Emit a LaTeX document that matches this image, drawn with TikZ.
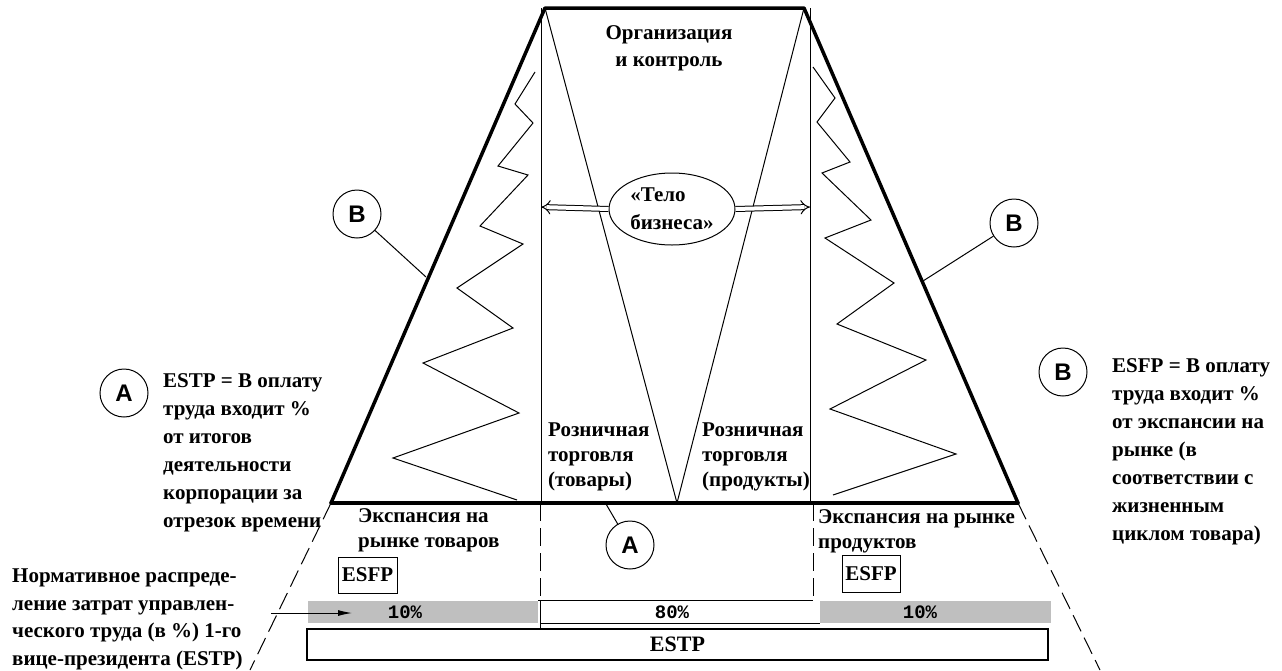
\documentclass[tikz,border=0pt]{standalone}
\usepackage{fontspec}
\setmainfont{Liberation Serif}
\newfontfamily\lsans{Liberation Sans}
\newfontfamily\lmono{Liberation Mono}
\usetikzlibrary{shapes.geometric,arrows.meta}

\begin{document}
\begin{tikzpicture}[x=1pt,y=-1pt,
  heavy/.style={line width=3.5pt, line cap=round, line join=round},
  fine/.style={line width=1pt},
  dashline/.style={line width=1pt, dash pattern=on 18pt off 7pt},
  txt/.style={font=\bfseries\fontsize{21}{28}\selectfont, inner sep=0pt, align=left, anchor=north west},
  letter/.style={circle, draw, line width=1pt, minimum size=48pt, inner sep=0pt,
                 font=\lsans\bfseries\fontsize{24}{24}\selectfont},
  pct/.style={font=\lmono\bfseries\fontsize{19}{19}\selectfont, inner sep=0pt},
  tag/.style={draw, line width=1pt, inner sep=0pt, font=\bfseries\fontsize{21}{21}\selectfont},
]
\useasboundingbox (0,0) rectangle (1282,670);

% corner points of the pyramid
\coordinate (TL) at (545,8);
\coordinate (TR) at (804,8);
\coordinate (BL) at (331,503);
\coordinate (BR) at (1018,503);
\coordinate (VA) at (677,503);
\coordinate (LVt) at (541,8);
\coordinate (LVb) at (541,503);
\coordinate (RVt) at (810,8);
\coordinate (RVb) at (810,503);
\coordinate (LVd) at (540,503);
\coordinate (LVe) at (540,600);
\coordinate (LVf) at (540,628);
\coordinate (RVd) at (813,503);
\coordinate (RVe) at (813,600);
\coordinate (LX) at (250,670);
\coordinate (RX) at (1100,670);

% distribution bars
\fill[black!25] (308,601) rectangle (538,623);
\fill[black!25] (820,601) rectangle (1051,623);
\draw[fine] (538,600) -- (813,600);
\draw[fine] (540,623) -- (820,623);
\node[pct] (p1) at (405,612) {10\%};
\node[pct] (p2) at (672,612) {80\%};
\node[pct] (p3) at (920,612) {10\%};
\node[draw, line width=1.2pt, minimum width=741pt, minimum height=31pt, inner sep=0pt,
      font=\bfseries\fontsize{22}{22}\selectfont] (estp) at (677.5,644.5) {ESTP};

% inner structure
\draw[fine] (LVt) -- (LVb);
\draw[fine] (RVt) -- (RVb);
\draw[fine] (TL) -- (VA) -- (TR);
\draw[dashline] (LVd) -- (LVe);
\draw[fine] (LVe) -- (LVf);
\draw[dashline] (RVd) -- (RVe);
\draw[dashline] (BL) -- (LX);
\draw[dashline] (BR) -- (RX);

% zigzag flanks
\draw[fine] (535,72) -- (515,104) -- (533,123) -- (498,166) -- (528,175) -- (480,226)
  -- (523,244) -- (457,288) -- (513,328) -- (423,363) -- (519,413) -- (393,458) -- (517,500);
\draw[fine] (813,67) -- (835,98) -- (817,122) -- (850,162) -- (822,173) -- (871,220)
  -- (825,238) -- (894,283) -- (837,324) -- (926,360) -- (830,409) -- (956,454) -- (833,495);

% pyramid outline
\draw[heavy] (BL) -- (TL) -- (TR) -- (BR);
\draw[heavy] (BL) -- (BR);

% body of the business
\node[ellipse, draw, line width=1pt, minimum width=126pt, minimum height=72pt, inner sep=0pt,
      font=\bfseries\fontsize{21}{28}\selectfont, align=left] (body) at (672,209) {«Тело\\бизнеса»};
\coordinate (LArr) at (541,207);
\coordinate (RArr) at (810,207);
\draw[fine, double distance=4pt, -{Implies}] (body.west) -- (LArr);
\draw[fine, double distance=4pt, -{Implies}] (body.east) -- (RArr);

% labels
\node[txt, align=center, anchor=north, font=\bfseries\fontsize{21}{27}\selectfont] (org) at (669,25) {Организация\\и контроль};
\node[txt, font=\bfseries\fontsize{21}{25}\selectfont] (r1) at (548,423) {Розничная\\торговля\\(товары)};
\node[txt, font=\bfseries\fontsize{21}{25}\selectfont] (r2) at (702,423) {Розничная\\торговля\\(продукты)};
\node[txt, font=\bfseries\fontsize{21}{25}\selectfont] (e1) at (358,508) {Экспансия на\\рынке товаров};
\node[txt, font=\bfseries\fontsize{21}{25}\selectfont] (e2) at (818,509) {Экспансия на рынке\\продуктов};
\node[tag, minimum width=59pt, minimum height=36pt] (f1) at (367.5,575) {ESFP};
\node[tag, minimum width=58pt, minimum height=37pt] (f2) at (871,573.5) {ESFP};

\node[txt] (ta) at (163,373) {ESTP = В оплату\\труда входит \%\\от итогов\\деятельности\\корпорации за\\отрезок времени};
\node[txt] (tb) at (1112,358) {ESFP = В оплату\\труда входит \%\\от экспансии на\\рынке (в\\соответствии с\\жизненным\\циклом товара)};
\node[txt, font=\bfseries\fontsize{21}{27.5}\selectfont] (norm) at (12,569) {Нормативное распреде-\\ление затрат управлен-\\ческого труда (в \%) 1-го\\вице-президента (ESTP)};

% markers
\node[letter] (cA1) at (124,393) {A};
\node[letter] (cA2) at (630,545) {A};
\node[letter] (cB1) at (357,214) {B};
\node[letter] (cB2) at (1014,223) {B};
\node[letter] (cB3) at (1063,372) {B};
\coordinate (pA2) at (606,504);
\coordinate (pB1) at (426,277);
\coordinate (pB2) at (923,281);
\draw[fine] (cA2) -- (pA2);
\draw[fine] (cB1) -- (pB1);
\draw[fine] (cB2) -- (pB2);

% pointer to the distribution bar
\coordinate (arS) at (271,613);
\coordinate (arE) at (352,613);
\draw[fine, -{Latex[length=14pt,width=6pt]}] (arS) -- (arE);
\end{tikzpicture}
\end{document}
